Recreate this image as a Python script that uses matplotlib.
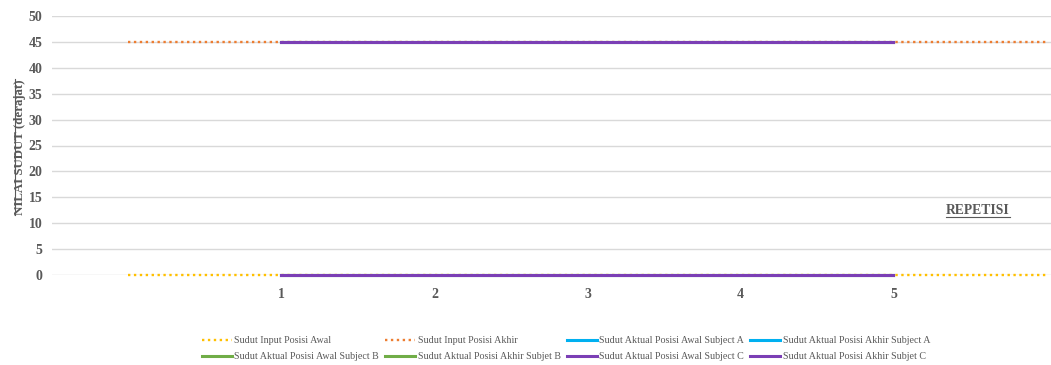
import matplotlib
matplotlib.use("Agg")
import matplotlib.pyplot as plt
from matplotlib.lines import Line2D

# Repetition index and angle values (degrees)
repetisi = [1, 2, 3, 4, 5]
input_x = [0, 1, 2, 3, 4, 5, 6]
input_awal = [0, 0, 0, 0, 0, 0, 0]
input_akhir = [45, 45, 45, 45, 45, 45, 45]
aktual_awal_a = [0, 0, 0, 0, 0]
aktual_akhir_a = [45, 45, 45, 45, 45]
aktual_awal_b = [0, 0, 0, 0, 0]
aktual_akhir_b = [45, 45, 45, 45, 45]
aktual_awal_c = [0, 0, 0, 0, 0]
aktual_akhir_c = [45, 45, 45, 45, 45]
y_ticks = [0, 5, 10, 15, 20, 25, 30, 35, 40, 45, 50]

plt.rcParams['font.family'] = ['Liberation Serif', 'DejaVu Serif']
GRAY = '#595959'

fig = plt.figure(figsize=(10.51, 3.65), dpi=100)
ax = fig.add_axes([52 / 1051, 90 / 365, 1 - 52 / 1051, 259 / 365])

dot = (0, (1, 1.5))
ax.plot(input_x, input_awal, color='#FFC000', lw=1.7, ls=dot,
        label='Sudut Input Posisi Awal', clip_on=False)
ax.plot(input_x, input_akhir, color='#ED7D31', lw=1.7, ls=dot,
        label='Sudut Input Posisi Akhir', clip_on=False)
ax.plot(repetisi, aktual_awal_a, color='#00B0F0', lw=2.2,
        label='Sudut Aktual Posisi Awal Subject A', clip_on=False)
ax.plot(repetisi, aktual_akhir_a, color='#00B0F0', lw=2.2,
        label='Sudut Aktual Posisi Akhir Subject A', clip_on=False)
ax.plot(repetisi, aktual_awal_b, color='#70AD47', lw=2.2,
        label='Sudut Aktual Posisi Awal Subject B', clip_on=False)
ax.plot(repetisi, aktual_akhir_b, color='#70AD47', lw=2.2,
        label='Sudut Aktual Posisi Akhir Subjet B', clip_on=False)
ax.plot(repetisi, aktual_awal_c, color='#7B3FB5', lw=2.2,
        label='Sudut Aktual Posisi Awal Subject C', clip_on=False)
ax.plot(repetisi, aktual_akhir_c, color='#7B3FB5', lw=2.2,
        label='Sudut Aktual Posisi Akhir Subjet C', clip_on=False)

ax.set_xlim(-0.5, 6.03)
ax.set_ylim(0, 50)
ax.set_yticks(y_ticks)
ax.set_xticks(repetisi)
ax.set_axisbelow(True)
ax.grid(axis='y', color='#d9d9d9', lw=1.0)
ax.grid(axis='x', visible=False)
for s in ax.spines.values():
    s.set_visible(False)
ax.tick_params(axis='both', length=0, labelsize=10, labelcolor=GRAY)
ax.tick_params(axis='y', pad=7)
ax.tick_params(axis='x', pad=9)
for lbl in ax.get_xticklabels() + ax.get_yticklabels():
    lbl.set_fontweight('bold')

ylab = fig.text(20 / 1051, 1 - 147 / 365, 'NILAI SUDUT (derajat)', rotation=90,
                ha='center', va='center', fontsize=9.3, fontweight='bold', color=GRAY)
rep = fig.text(978 / 1051, 1 - 211 / 365, 'REPETISI', ha='center', va='center',
               fontsize=9.8, fontweight='bold', color=GRAY)

# legend entries laid out row by row
handles, labels = ax.get_legend_handles_labels()
order = [0, 4, 1, 5, 2, 6, 3, 7]
leg = fig.legend([handles[i] for i in order], [labels[i] for i in order],
                 loc='center', bbox_to_anchor=(566 / 1051, 1 - 348.5 / 365), ncol=4,
                 frameon=False, fontsize=7.2, handlelength=3.0, handletextpad=0.25,
                 columnspacing=0.6, labelspacing=0.7)
for t in leg.get_texts():
    t.set_color(GRAY)

# underline the axis titles
fig.canvas.draw()
r = fig.canvas.get_renderer()
inv = fig.transFigure.inverted()
bb = rep.get_window_extent(r)
(x0, y0), (x1, y1) = inv.transform([(bb.x0, bb.y0), (bb.x1, bb.y1)])
fig.add_artist(Line2D([x0, x1], [y0 + 0.002, y0 + 0.002], transform=fig.transFigure,
                      color=GRAY, lw=0.8))
bb = ylab.get_window_extent(r)
(x0, y0), (x1, y1) = inv.transform([(bb.x0, bb.y0), (bb.x1, bb.y1)])
fig.add_artist(Line2D([x0 + 0.001, x0 + 0.001], [y0, y1], transform=fig.transFigure,
                      color=GRAY, lw=0.8))

fig.savefig('out.png', dpi=100)
